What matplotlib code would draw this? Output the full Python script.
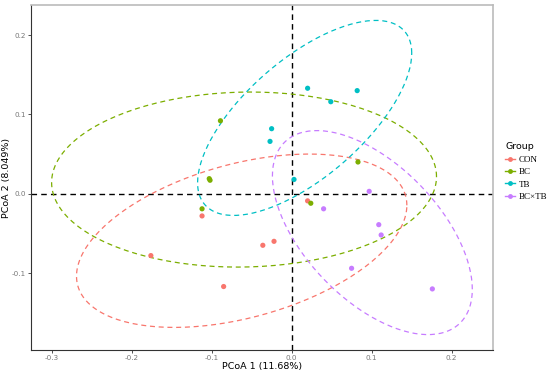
import numpy as np
import matplotlib
matplotlib.use("Agg")
import matplotlib.pyplot as plt
from matplotlib.lines import Line2D

# PCoA coordinates
groups = ["CON", "BC", "TB", "BC×TB"]
colors = ["#F8766D", "#7CAE00", "#00BFC4", "#C77CFF"]

con_x = [-0.176, -0.085, -0.036, -0.022, -0.112, 0.020]
con_y = [-0.078, -0.117, -0.065, -0.060, -0.028, -0.009]
bc_x = [-0.089, -0.103, -0.102, -0.112, 0.083, 0.024]
bc_y = [0.092, 0.019, 0.017, -0.019, 0.040, -0.012]
tb_x = [-0.025, -0.027, 0.020, 0.082, 0.049, 0.003]
tb_y = [0.082, 0.066, 0.133, 0.130, 0.116, 0.018]
bctb_x = [0.097, 0.040, 0.109, 0.112, 0.075, 0.176]
bctb_y = [0.003, -0.019, -0.039, -0.052, -0.094, -0.120]

xs = [con_x, bc_x, tb_x, bctb_x]
ys = [con_y, bc_y, tb_y, bctb_y]


def cov_trob(x, nu=5, maxit=25, tol=0.01):
    # port of MASS::cov.trob (what stat_ellipse uses)
    n, p = x.shape
    wt = np.ones(n)
    loc = x.mean(axis=0)
    w = np.sqrt(wt)
    for _ in range(maxit):
        w0 = w
        X = x - loc
        _, d, vt = np.linalg.svd(np.sqrt(w / w.sum())[:, None] * X, full_matrices=False)
        wX = X @ vt.T @ np.diag(1 / d)
        Q = (wX ** 2).sum(axis=1)
        w = wt * (nu + p) / (nu + Q)
        loc = (w[:, None] * x).sum(axis=0) / w.sum()
        if np.all(np.abs(w - w0) < tol):
            break
    X = x - loc
    cov = (np.sqrt(w)[:, None] * X).T @ (np.sqrt(w)[:, None] * X) / wt.sum()
    return loc, cov


def ellipse_pts(px, py, level=0.95, seg=200):
    x = np.column_stack([px, py])
    center, shape = cov_trob(x)
    dfd = len(px) - 1
    # F(2, dfd) quantile in closed form
    q = dfd / 2 * ((1 - level) ** (-2 / dfd) - 1)
    radius = np.sqrt(2 * q)
    chol = np.linalg.cholesky(shape).T
    ang = np.linspace(0, 2 * np.pi, seg + 1)
    circ = np.column_stack([np.cos(ang), np.sin(ang)])
    return center + radius * (circ @ chol)


fig = plt.figure(figsize=(5.5, 3.73), dpi=100)
ax = fig.add_axes([0.0555, 0.0617, 0.8405, 0.925])

ax.axhline(0, color="black", lw=1.0, ls=(0, (4, 3)), zorder=1)
ax.axvline(0, color="black", lw=1.0, ls=(0, (4, 3)), zorder=1)

for px, py, c in zip(xs, ys, colors):
    e = ellipse_pts(px, py)
    ax.plot(e[:, 0], e[:, 1], color=c, lw=0.9, ls=(0, (4, 3)), zorder=2)
    ax.scatter(px, py, s=14, color=c, edgecolors="none", zorder=3)

ax.set_xlim(-0.3265, 0.2516)
ax.set_ylim(-0.197, 0.238)
ax.set_xticks([-0.3, -0.2, -0.1, 0.0, 0.1, 0.2])
ax.set_xticklabels(["-0.3", "-0.2", "-0.1", "0.0", "0.1", "0.2"])
ax.set_yticks([-0.1, 0.0, 0.1, 0.2])
ax.set_yticklabels(["-0.1", "0.0", "0.1", "0.2"])
ax.tick_params(labelsize=5.2, labelcolor="#777777", length=2, width=0.6, color="#333333", pad=1.5)

for side in ["top", "right"]:
    ax.spines[side].set_color("#bbbbbb")
    ax.spines[side].set_linewidth(1.2)
for side in ["left", "bottom"]:
    ax.spines[side].set_color("#333333")
    ax.spines[side].set_linewidth(0.8)

ax.set_xlabel("PCoA 1 (11.68%)", fontsize=6.8)
ax.xaxis.set_label_coords(0.5, -0.035)
ax.set_ylabel("PCoA 2 (8.049%)", fontsize=6.8)
ax.yaxis.set_label_coords(-0.043, 0.5)

handles = [Line2D([0], [0], color=c, lw=1.0, marker="o", markersize=3.5,
                  markeredgecolor="none") for c in colors]
leg = fig.legend(handles, groups, loc="upper left", bbox_to_anchor=(0.919, 0.618),
                 frameon=False, title="Group", handlelength=1.1, handletextpad=0.4,
                 labelspacing=0.45, borderaxespad=0, borderpad=0,
                 prop={"family": "Liberation Serif", "size": 6.5},
                 title_fontproperties={"size": 6.8})
leg._legend_box.align = "left"

fig.savefig("out.png", dpi=100)
